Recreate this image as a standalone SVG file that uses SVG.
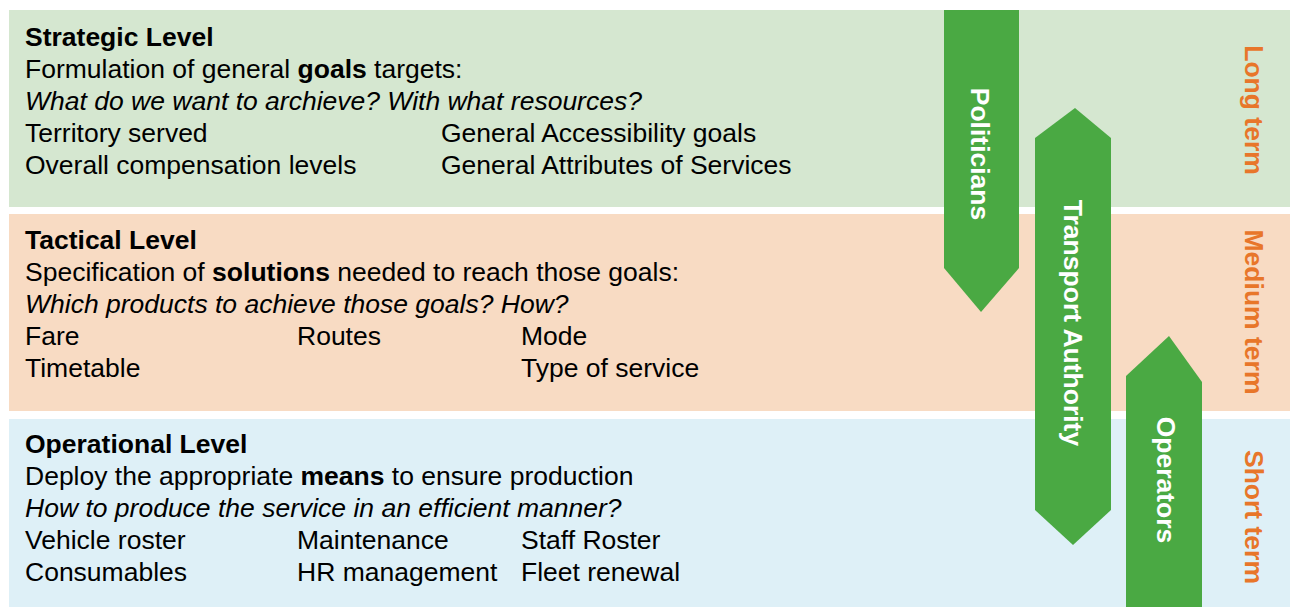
<svg xmlns="http://www.w3.org/2000/svg" width="1290" height="607" viewBox="0 0 1290 607">
  <style>
    text { font-family: "Liberation Sans", Arial, Helvetica, sans-serif; font-size: 26.5px; fill: #000; }
    .b { font-weight: bold; }
    .i { font-style: italic; }
    .arrow { fill: #4aa943; }
    .alabel { fill: #ffffff; font-weight: bold; text-anchor: middle; }
    .term { fill: #e8762a; font-weight: bold; text-anchor: middle; }
  </style>

  <!-- level bands -->
  <g id="strategic">
    <rect x="9" y="10" width="1281" height="197" fill="#d5e7d0"/>
    <text x="25" y="46" class="b">Strategic Level</text>
    <text x="25" y="78">Formulation of general <tspan class="b">goals</tspan> targets:</text>
    <text x="25" y="110" class="i">What do we want to archieve? With what resources?</text>
    <text x="25" y="142">Territory served</text>
    <text x="441" y="142">General Accessibility goals</text>
    <text x="25" y="174">Overall compensation levels</text>
    <text x="441" y="174">General Attributes of Services</text>
  </g>

  <g id="tactical">
    <rect x="9" y="214" width="1281" height="197" fill="#f8dbc3"/>
    <text x="25" y="249" class="b">Tactical Level</text>
    <text x="25" y="281">Specification of <tspan class="b">solutions</tspan> needed to reach those goals:</text>
    <text x="25" y="313" class="i">Which products to achieve those goals? How?</text>
    <text x="25" y="345">Fare</text>
    <text x="297" y="345">Routes</text>
    <text x="521" y="345">Mode</text>
    <text x="25" y="377">Timetable</text>
    <text x="521" y="377">Type of service</text>
  </g>

  <g id="operational">
    <rect x="9" y="419" width="1281" height="188" fill="#def0f7"/>
    <text x="25" y="453" class="b">Operational Level</text>
    <text x="25" y="485">Deploy the appropriate <tspan class="b">means</tspan> to ensure production</text>
    <text x="25" y="517" class="i">How to produce the service in an efficient manner?</text>
    <text x="25" y="549">Vehicle roster</text>
    <text x="297" y="549">Maintenance</text>
    <text x="521" y="549">Staff Roster</text>
    <text x="25" y="581">Consumables</text>
    <text x="297" y="581">HR management</text>
    <text x="521" y="581">Fleet renewal</text>
  </g>

  <!-- time horizon labels -->
  <g id="horizons">
    <text class="term" transform="translate(1245,110) rotate(90)">Long term</text>
    <text class="term" transform="translate(1245,312) rotate(90)">Medium term</text>
    <text class="term" transform="translate(1245,517) rotate(90)">Short term</text>
  </g>

  <!-- actor arrows -->
  <g id="connectors">
    <g id="politicians">
      <polygon class="arrow" points="944,10 1019,10 1019,268 981,312 944,268"/>
      <text class="alabel" transform="translate(971,154) rotate(90)">Politicians</text>
    </g>
    <g id="transport-authority">
      <polygon class="arrow" points="1035,138 1075,108 1111,138 1111,510 1073,545 1035,510"/>
      <text class="alabel" transform="translate(1064,323) rotate(90)">Transport Authority</text>
    </g>
    <g id="operators">
      <polygon class="arrow" points="1126,376 1169,336 1202,382 1202,607 1126,607"/>
      <text class="alabel" transform="translate(1157,480) rotate(90)">Operators</text>
    </g>
  </g>
</svg>
